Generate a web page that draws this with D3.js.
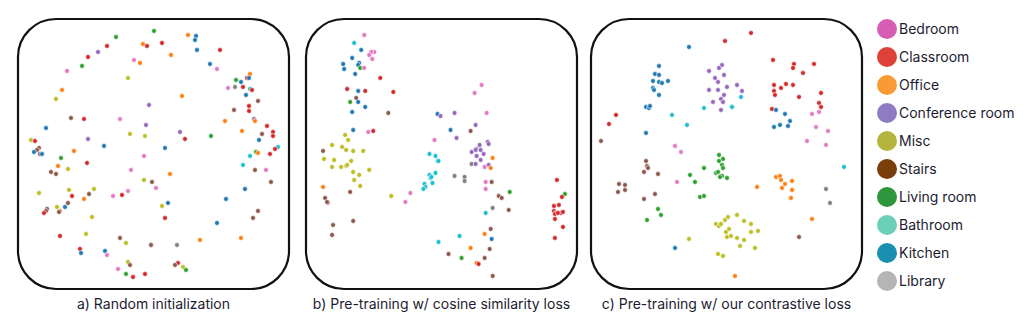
<!DOCTYPE html>
<html>
<head>
<meta charset="utf-8">
<script src="https://cdn.jsdelivr.net/npm/d3@7"></script>
<style>
  html, body { margin: 0; padding: 0; background: #fff; }
  svg { display: block; }
  text { font-family: Inter, "Noto Sans", sans-serif; fill: #1c1c30; }
</style>
</head>
<body>
<svg id="chart" width="1029" height="336"></svg>
<script>
// ---------------- data ----------------
const categories = ["Bedroom", "Classroom", "Office", "Conference room", "Misc", "Stairs", "Living room", "Bathroom", "Kitchen", "Library"];
const categoryCodes = ["b", "c", "o", "f", "m", "s", "l", "t", "k", "y"];
const legendColors = ["#d65db1", "#de4137", "#f99a35", "#8e7cc3", "#b3b53c", "#7a3e0a", "#2e963d", "#6ccfb9", "#1a8fb0", "#b5b5b5"];
const pointColors = ["#e377c2", "#d62728", "#ff7f0e", "#9467bd", "#bcbd22", "#8c564b", "#2ca02c", "#17becf", "#1f77b4", "#7f7f7f"];
const captions = ["a) Random initialization", "b) Pre-training w/ cosine similarity loss", "c) Pre-training w/ our contrastive loss"];

// embedding coordinates (per-panel frames)
const pointsA = [
[154,31,"l"],[188,35,"o"],[196,36,"k"],[195,40,"k"],[116,37,"l"],[143,44,"o"],[147,46,"c"],[162,43,"c"],[107,46,"c"],
[197,50,"k"],[220,50,"c"],[98,52,"f"],[171,55,"o"],[88,57,"c"],[134,60,"b"],[140,63,"o"],[210,64,"k"],[82,66,"l"],
[217,69,"b"],[67,71,"b"],[250,74,"o"],[128,78,"m"],[236,80,"l"],[241,82,"k"],[247,78,"c"],[249,78,"k"],[243,87,"c"],
[235,87,"y"],[228,88,"b"],[250,89,"t"],[252,90,"c"],[62,90,"o"],[246,95,"k"],[56,99,"m"],[182,96,"o"],[258,101,"s"],
[149,105,"f"],[249,106,"c"],[249,111,"c"],[234,110,"s"],[71,118,"s"],[84,119,"c"],[120,119,"b"],[254,119,"f"],[255,121,"o"],
[225,121,"o"],[146,125,"f"],[267,126,"c"],[46,128,"k"],[242,131,"o"],[180,132,"f"],[273,132,"c"],[262,134,"s"],[273,136,"c"],
[130,134,"m"],[145,136,"m"],[88,139,"f"],[185,139,"c"],[211,136,"l"],[31,140,"m"],[35,141,"c"],[259,140,"k"],[104,146,"k"],
[165,148,"k"],[278,147,"t"],[275,149,"c"],[74,151,"o"],[39,148,"s"],[37,150,"s"],[34,152,"k"],[40,154,"s"],[42,154,"k"],
[61,158,"l"],[144,156,"b"],[250,156,"t"],[256,152,"l"],[258,153,"o"],[270,154,"c"],[58,166,"o"],[87,163,"c"],[243,165,"t"],
[68,169,"m"],[51,172,"s"],[56,174,"s"],[131,170,"b"],[170,174,"o"],[255,170,"s"],[266,170,"b"],[144,180,"m"],[152,182,"s"],
[271,182,"s"],[39,193,"m"],[69,190,"m"],[72,196,"c"],[89,194,"s"],[94,189,"m"],[84,199,"o"],[113,196,"b"],[122,195,"c"],
[128,191,"b"],[156,188,"b"],[245,189,"k"],[68,203,"s"],[57,207,"m"],[65,207,"k"],[60,211,"o"],[59,212,"s"],[47,209,"s"],
[46,211,"s"],[44,213,"c"],[226,199,"k"],[168,203,"k"],[162,206,"m"],[258,211,"s"],[92,217,"m"],[165,218,"c"],[253,218,"s"],
[217,223,"k"],[86,234,"m"],[60,236,"c"],[120,238,"s"],[200,240,"o"],[241,238,"o"],[126,243,"m"],[151,245,"k"],[151,245,"s"],
[177,245,"y"],[80,249,"c"],[81,253,"k"],[105,251,"k"],[107,255,"b"],[128,262,"m"],[130,265,"s"],[178,263,"c"],[175,265,"s"],
[183,267,"m"],[186,270,"l"],[118,269,"b"],[126,274,"l"],[133,277,"c"],[145,274,"c"]
];

const pointsB = [
[364,35,"b"],[354,43,"t"],[361,50,"k"],[374,52,"b"],[371,52,"b"],[369,55,"b"],[352,58,"k"],[372,59,"b"],[343,64,"k"],
[359,63,"k"],[358,65,"k"],[344,69,"k"],[360,68,"l"],[364,68,"b"],[355,74,"k"],[380,78,"c"],[347,89,"c"],[358,91,"k"],
[365,91,"c"],[393,92,"c"],[356,98,"s"],[350,102,"l"],[358,102,"k"],[365,107,"k"],[352,112,"k"],[388,113,"s"],[353,130,"k"],
[368,132,"b"],[373,131,"c"],[345,135,"m"],[348,140,"m"],[332,145,"m"],[342,147,"m"],[346,150,"m"],[353,151,"m"],[363,151,"m"],
[323,151,"s"],[324,159,"m"],[334,160,"m"],[351,161,"m"],[332,167,"m"],[341,167,"m"],[346,166,"m"],[347,165,"m"],[353,172,"m"],
[359,175,"m"],[369,170,"m"],[354,180,"m"],[360,186,"m"],[323,187,"o"],[350,192,"s"],[325,198,"s"],[328,203,"b"],[327,202,"s"],
[391,196,"m"],[410,193,"b"],[405,202,"b"],[353,221,"s"],[333,225,"s"],[332,235,"s"],
[481,85,"b"],[474,93,"b"],[486,113,"b"],[437,114,"k"],[440,116,"f"],[454,113,"f"],[475,125,"f"],[450,130,"k"],[470,131,"s"],
[456,138,"f"],[434,140,"b"],[487,142,"f"],[488,144,"f"],[479,145,"f"],[476,149,"f"],[475,150,"f"],[480,150,"f"],[471,152,"f"],
[483,154,"f"],[476,156,"f"],[492,158,"o"],[480,160,"f"],[429,154,"t"],[435,156,"t"],[437,161,"t"],[438,161,"t"],[471,164,"y"],
[475,164,"f"],[488,165,"f"],[484,167,"b"],[490,168,"o"],[435,173,"t"],[429,175,"t"],[430,178,"t"],[431,177,"t"],[454,176,"y"],
[464,177,"y"],[464,181,"y"],[432,183,"t"],[424,184,"t"],[425,187,"t"],[423,189,"t"],[485,182,"b"],[491,182,"s"],[485,189,"b"],
[498,196,"s"],[501,198,"s"],[509,192,"l"],[485,213,"t"],[492,208,"y"],[508,210,"s"],[490,229,"s"],[484,234,"o"],[459,236,"t"],
[491,239,"k"],[438,242,"t"],[470,248,"o"],[489,249,"s"],[448,254,"s"],[461,258,"l"],[484,258,"s"],[476,263,"o"],[478,264,"c"],
[492,276,"s"],
[556,180,"c"],[564,194,"l"],[561,197,"c"],[558,205,"c"],[553,206,"c"],[553,211,"c"],[555,213,"c"],[560,213,"c"],[562,212,"c"],
[554,214,"c"],[557,213,"c"],[554,219,"c"],[562,227,"c"],[554,238,"c"]
];

const pointsC = [
[751,33,"c"],[725,41,"c"],[689,47,"k"],[773,60,"c"],[794,64,"c"],[793,68,"c"],[814,64,"c"],[803,73,"c"],[659,66,"k"],
[722,65,"f"],[719,68,"f"],[709,71,"f"],[724,75,"f"],[715,78,"f"],[718,82,"f"],[655,74,"k"],[659,75,"k"],[653,81,"k"],
[659,82,"k"],[662,83,"k"],[668,81,"k"],[653,88,"k"],[654,90,"k"],[659,95,"k"],[646,107,"k"],[649,108,"k"],[650,106,"k"],
[709,90,"f"],[718,90,"f"],[727,87,"f"],[737,85,"f"],[742,91,"f"],[724,95,"f"],[713,102,"f"],[721,99,"f"],[723,102,"f"],
[721,110,"f"],[741,97,"t"],[704,108,"t"],[732,107,"k"],[732,107,"t"],[774,85,"c"],[774,91,"c"],[775,95,"c"],[781,88,"c"],
[786,84,"c"],[793,85,"c"],[799,97,"c"],[821,93,"c"],[819,103,"c"],[821,107,"c"],[772,109,"c"],[776,110,"k"],[785,114,"k"],
[790,121,"k"],[774,127,"k"],[780,125,"k"],[788,126,"k"],[812,114,"b"],[819,112,"b"],[816,127,"b"],[828,131,"b"],[807,141,"b"],
[826,145,"b"],[672,115,"t"],[687,125,"t"],[616,115,"c"],[609,124,"c"],[601,141,"s"],[646,133,"k"],[675,146,"b"],[681,152,"b"],
[719,155,"l"],[723,159,"l"],[719,161,"l"],[722,165,"l"],[723,168,"l"],[716,173,"l"],[718,172,"l"],[722,176,"l"],[720,177,"l"],
[727,178,"l"],[704,168,"l"],[690,175,"l"],[695,182,"l"],[700,197,"l"],[704,196,"l"],[646,161,"s"],[647,166,"s"],[648,168,"s"],
[644,172,"s"],[658,174,"s"],[677,182,"b"],[619,184,"s"],[625,185,"s"],[618,192,"s"],[625,190,"s"],[655,194,"s"],[644,199,"s"],
[658,209,"l"],[661,215,"l"],[647,220,"l"],[844,167,"t"],[776,177,"o"],[780,176,"o"],[781,180,"o"],[792,181,"o"],[785,184,"o"],
[757,187,"o"],[782,188,"o"],[792,190,"o"],[791,198,"o"],[826,189,"y"],[830,203,"y"],[812,219,"o"],[737,215,"m"],[728,217,"m"],
[725,220,"m"],[744,221,"m"],[751,224,"m"],[716,224,"m"],[719,226,"m"],[721,224,"m"],[729,229,"m"],[726,232,"m"],[751,232,"m"],
[758,231,"m"],[727,237,"m"],[731,236,"m"],[737,238,"m"],[744,240,"m"],[740,246,"m"],[755,248,"m"],[689,239,"m"],[675,248,"k"],
[799,237,"s"],[718,254,"m"],[723,256,"m"],[735,276,"o"]
];

// embedding frames (domains) of the three panels
const panelXDomains = [[18, 289], [306, 576], [591, 862]];
const panelYDomain = [19, 289];

// ---------------- drawing ----------------
const svg = d3.select("#chart");
svg.append("rect").attr("width", 1029).attr("height", 336).attr("fill", "#fff");

const panelLefts = [18, 306, 591];
const panelW = 271, panelH = 270, panelTop = 19;
const colorPoint = d3.scaleOrdinal().domain(categoryCodes).range(pointColors);
const colorLegend = d3.scaleOrdinal().domain(categories).range(legendColors);
const allPoints = [pointsA, pointsB, pointsC];

allPoints.forEach((pts, i) => {
  const x = d3.scaleLinear().domain(panelXDomains[i]).range([panelLefts[i], panelLefts[i] + panelW]);
  const y = d3.scaleLinear().domain(panelYDomain).range([panelTop, panelTop + panelH]);
  const g = svg.append("g");
  g.append("rect")
    .attr("x", panelLefts[i]).attr("y", panelTop)
    .attr("width", panelW).attr("height", panelH)
    .attr("rx", 38).attr("ry", 38)
    .attr("fill", "none").attr("stroke", "#111").attr("stroke-width", 2.2);
  g.selectAll("circle").data(pts).join("circle")
    .attr("cx", d => x(d[0])).attr("cy", d => y(d[1]))
    .attr("r", 2.4)
    .attr("fill", d => colorPoint(d[2]))
    .attr("stroke", "#fff").attr("stroke-width", 0.6);
  svg.append("text")
    .attr("x", panelLefts[i] + panelW / 2).attr("y", 309)
    .attr("text-anchor", "middle")
    .attr("font-size", 14)
    .text(captions[i]);
});

const legend = svg.append("g");
const ly = d3.scalePoint().domain(categories).range([29, 281]);
legend.selectAll("circle").data(categories).join("circle")
  .attr("cx", 887).attr("cy", d => ly(d)).attr("r", 10)
  .attr("fill", d => colorLegend(d));
legend.selectAll("text").data(categories).join("text")
  .attr("x", 899).attr("y", d => ly(d) + 5)
  .attr("font-size", 14)
  .text(d => d);
</script>
</body>
</html>
